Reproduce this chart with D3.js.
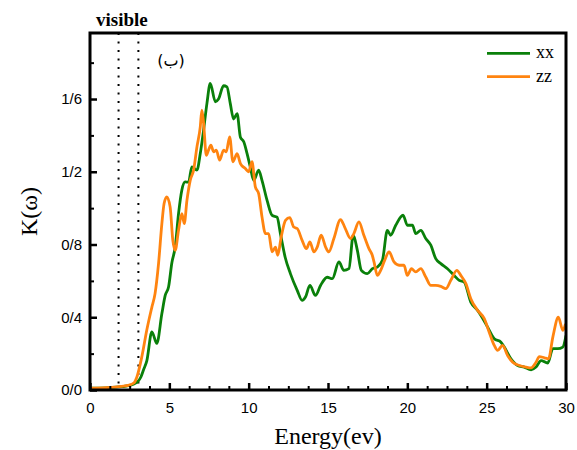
<!DOCTYPE html>
<html><head><meta charset="utf-8">
<script src="https://cdn.jsdelivr.net/npm/d3@7"></script>
<style>body{margin:0;background:#fff}svg{display:block}</style>
</head><body>
<script>
const energyXX = [0,1,2,2.5,2.8,3.0,3.2,3.37,3.58,3.9,4.21,4.53,4.74,4.95,5.16,5.37,5.58,5.79,6.0,6.21,6.42,6.74,6.95,7.16,7.37,7.58,7.9,8.1,8.42,8.63,8.84,9.05,9.27,9.48,9.69,9.9,10.1,10.32,10.63,10.84,11.16,11.48,11.79,12.0,12.3,12.63,13.06,13.37,13.58,13.86,14.21,14.53,14.95,15.27,15.69,16.0,16.32,16.59,16.85,17.1,17.48,17.8,18.11,18.43,18.74,18.95,19.27,19.73,20.0,20.32,20.53,20.85,21.16,21.48,21.79,22.11,22.53,22.95,23.27,23.58,24.0,24.43,24.64,25.06,25.48,25.9,26.11,26.53,26.95,27.37,27.8,28.11,28.43,28.85,29.17,29.48,29.8,30];
const kXX = [0.01,0.012,0.018,0.025,0.035,0.045,0.07,0.11,0.16,0.32,0.256,0.42,0.52,0.566,0.70,0.786,0.97,1.10,1.144,1.143,1.227,1.209,1.30,1.43,1.576,1.686,1.585,1.60,1.673,1.667,1.576,1.49,1.52,1.39,1.365,1.30,1.227,1.153,1.209,1.153,1.043,0.96,0.95,0.86,0.73,0.64,0.548,0.493,0.511,0.575,0.52,0.575,0.62,0.612,0.704,0.658,0.667,0.851,0.768,0.658,0.64,0.667,0.676,0.713,0.878,0.851,0.906,0.961,0.906,0.906,0.86,0.878,0.833,0.796,0.722,0.695,0.667,0.63,0.603,0.594,0.483,0.438,0.41,0.346,0.282,0.263,0.236,0.172,0.135,0.126,0.111,0.126,0.162,0.148,0.227,0.227,0.236,0.30];
const energyZZ = [0,1,2,2.4,2.78,2.95,3.26,3.58,3.9,4.1,4.32,4.53,4.67,4.84,5.05,5.22,5.37,5.58,5.79,5.94,6.11,6.32,6.53,6.74,6.95,7.05,7.16,7.33,7.47,7.62,7.79,7.96,8.17,8.42,8.59,8.8,9.01,9.27,9.48,9.79,10.0,10.21,10.42,10.63,10.84,11.06,11.26,11.48,11.69,11.83,12.05,12.32,12.59,12.84,13.06,13.37,13.64,13.86,14.11,14.32,14.57,14.85,15.05,15.37,15.79,16.05,16.42,16.63,16.95,17.26,17.58,17.79,17.9,18.11,18.32,18.57,18.85,19.16,19.48,19.79,20.0,20.26,20.53,20.85,21.16,21.48,21.79,22.11,22.43,22.74,23.12,23.37,23.69,24.0,24.43,24.85,25.16,25.48,25.69,26.0,26.32,26.64,27.06,27.48,27.8,28.11,28.32,28.64,28.9,29.17,29.52,29.8,29.97];
const kZZ = [0.01,0.013,0.02,0.025,0.04,0.07,0.18,0.33,0.456,0.53,0.695,0.915,1.025,1.062,1.007,0.823,0.768,0.878,0.97,0.915,1.043,1.154,1.209,1.337,1.447,1.539,1.466,1.29,1.319,1.346,1.31,1.319,1.264,1.319,1.31,1.392,1.255,1.30,1.245,1.218,1.2,1.255,1.117,1.08,0.952,0.86,0.86,0.759,0.786,0.741,0.841,0.933,0.948,0.896,0.888,0.823,0.777,0.814,0.759,0.786,0.851,0.786,0.759,0.833,0.937,0.896,0.833,0.86,0.924,0.851,0.777,0.741,0.704,0.63,0.658,0.713,0.759,0.704,0.686,0.686,0.63,0.667,0.649,0.667,0.621,0.575,0.575,0.57,0.557,0.603,0.658,0.63,0.585,0.502,0.438,0.392,0.318,0.245,0.218,0.245,0.19,0.153,0.135,0.126,0.122,0.153,0.184,0.177,0.172,0.291,0.40,0.328,0.364];
const xTicks = [0,5,10,15,20,25,30];
const yTicks = [0,0.4,0.8,1.2,1.6];
const yTickLabels = ["0/0","0/4","0/8","1/2","1/6"];
const visibleBounds = [1.8,3.05];
const seriesNames = ["xx","zz"];
const seriesColors = ["#0a800a","#ff8410"];

const W = 577, H = 450;
const m = {left:90, top:33, right:11, bottom:60};
const svg = d3.select("body").append("svg").attr("width",W).attr("height",H);
const x = d3.scaleLinear().domain([0,30]).range([m.left, W-m.right]);
const y = d3.scaleLinear().domain([0,1.963]).range([H-m.bottom, m.top]);

svg.append("clipPath").attr("id","clip").append("rect")
  .attr("x",m.left).attr("y",m.top).attr("width",W-m.left-m.right).attr("height",H-m.top-m.bottom);

svg.selectAll(".vis").data(visibleBounds).enter().append("line")
  .attr("x1",d=>x(d)).attr("x2",d=>x(d)).attr("y1",y.range()[1]).attr("y2",y.range()[0])
  .attr("stroke","#000").attr("stroke-width",2).attr("stroke-dasharray","2,6.5");

const line = d3.line().x(d=>x(d[0])).y(d=>y(d[1])).curve(d3.curveMonotoneX);
const series = [d3.zip(energyXX,kXX), d3.zip(energyZZ,kZZ)];
svg.append("path").datum(series[0]).attr("d",line).attr("fill","none")
  .attr("stroke",seriesColors[0]).attr("stroke-width",2.8).attr("clip-path","url(#clip)");
svg.append("path").datum(series[1]).attr("d",line).attr("fill","none")
  .attr("stroke",seriesColors[1]).attr("stroke-width",2.8).attr("clip-path","url(#clip)");

const xMinor = d3.range(0,30.01,1.25).filter(v=>v%5!==0);
const yMinor = [0.2,0.6,1.0,1.4,1.8];
const gx = svg.append("g").attr("transform",`translate(0,${H-m.bottom})`)
  .call(d3.axisBottom(x).tickValues(xTicks).tickSize(-7).tickPadding(12).tickFormat(d3.format("d")));
const gxm = svg.append("g").attr("transform",`translate(0,${H-m.bottom})`)
  .call(d3.axisBottom(x).tickValues(xMinor).tickSize(-4).tickFormat(""));
const gy = svg.append("g").attr("transform",`translate(${m.left},0)`)
  .call(d3.axisLeft(y).tickValues(yTicks).tickSize(-7).tickPadding(8).tickFormat((d,i)=>yTickLabels[i]));
const gym = svg.append("g").attr("transform",`translate(${m.left},0)`)
  .call(d3.axisLeft(y).tickValues(yMinor).tickSize(-4).tickFormat(""));
[gx,gxm,gy,gym].forEach(g=>{g.select(".domain").remove(); g.selectAll(".tick line").attr("stroke","#000");});
[gx,gy].forEach(g=>g.selectAll(".tick line").attr("stroke-width",2.5));
[gxm,gym].forEach(g=>g.selectAll(".tick line").attr("stroke-width",2));
[gx,gy].forEach(g=>g.selectAll(".tick text").attr("font-family","'Liberation Sans',Arial,sans-serif").attr("font-size",15).attr("fill","#000"));

svg.append("rect").attr("x",m.left).attr("y",m.top).attr("width",W-m.left-m.right).attr("height",H-m.top-m.bottom)
  .attr("fill","none").attr("stroke","#000").attr("stroke-width",3);

svg.append("text").attr("x",(m.left+W-m.right)/2).attr("y",444).attr("text-anchor","middle")
  .attr("font-family","'Liberation Serif','Times New Roman',serif").attr("font-size",24).text("Energy(ev)");
svg.append("text").attr("transform",`translate(37,${(m.top+H-m.bottom)/2}) rotate(-90)`).attr("text-anchor","middle")
  .attr("font-family","'Liberation Serif','Times New Roman',serif").attr("font-size",24).text("K(ω)");
svg.append("text").attr("x",96).attr("y",26).attr("font-family","'Liberation Serif','Times New Roman',serif")
  .attr("font-weight","bold").attr("font-size",19).text("visible");
svg.append("text").attr("x",171).attr("y",66).attr("text-anchor","middle").attr("font-family","'DejaVu Sans',sans-serif")
  .attr("font-size",16).text("(ب)");

const leg = svg.append("g");
seriesNames.forEach((n,i)=>{
  const yy = 53.3 + i*23.4;
  leg.append("line").attr("x1",487).attr("x2",530).attr("y1",yy).attr("y2",yy).attr("stroke",seriesColors[i]).attr("stroke-width",2.8);
  leg.append("text").attr("x",536).attr("y",yy+5).attr("font-family","'Liberation Serif','Times New Roman',serif")
    .attr("font-size",18).text(n);
});
</script>
</body></html>
